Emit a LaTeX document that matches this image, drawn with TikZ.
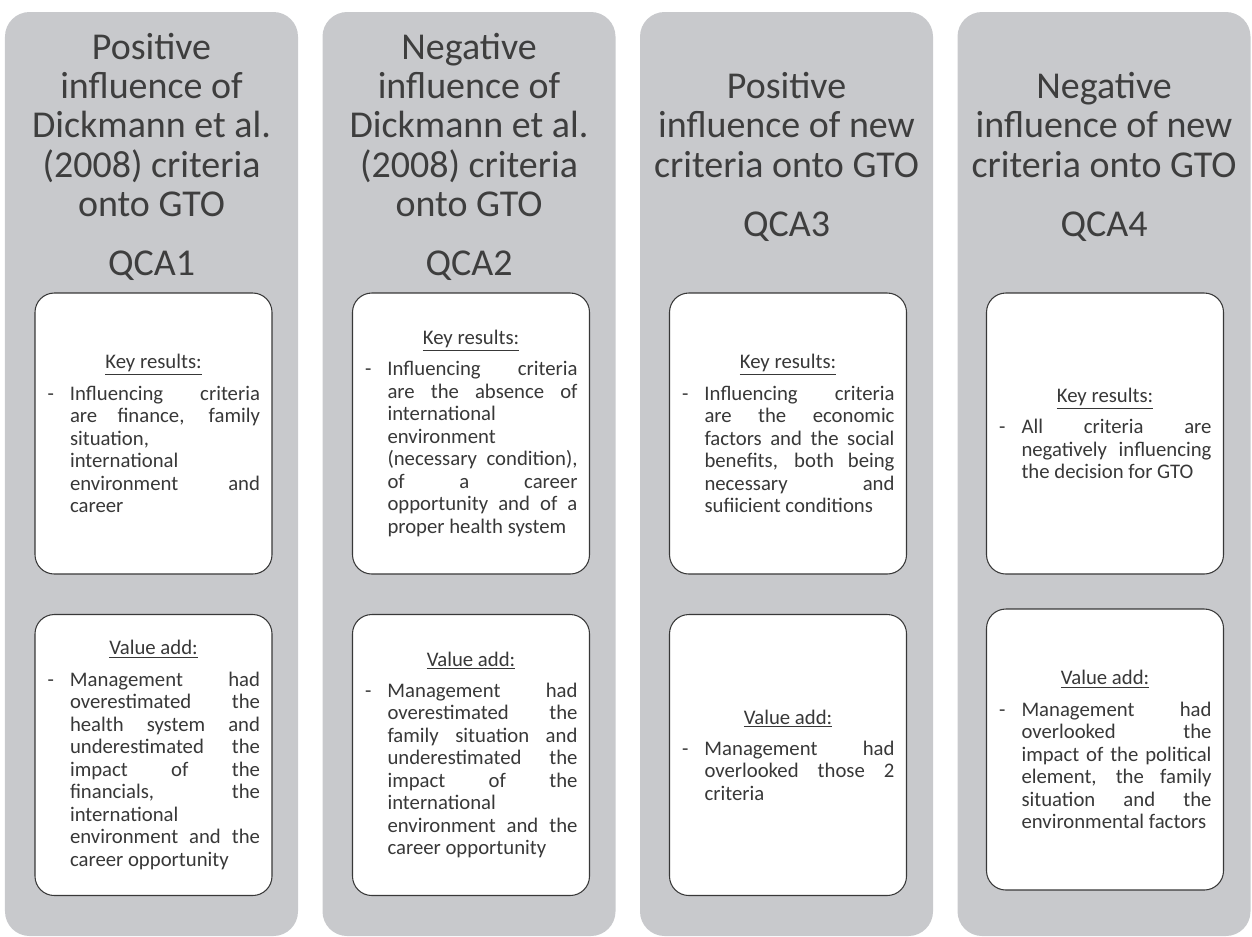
\documentclass[tikz,border=0pt]{standalone}
\usepackage{fontspec}
\setmainfont{Carlito}
\usepackage{xcolor}
\usepackage{tikz}
\usetikzlibrary{positioning}

\definecolor{colgray}{RGB}{200,201,204}
\definecolor{txtgray}{RGB}{56,56,56}
\definecolor{ttlgray}{RGB}{62,62,62}

\tolerance=10000
\hbadness=10000
\hyphenpenalty=10000

\newcommand{\boxhead}[1]{{\centering\underline{#1}\par}\vspace{5pt}}
\newcommand{\dashitem}[1]{\noindent\hangindent=0.46cm\hangafter=0\llap{-\hspace{0.32cm}}#1\par}

\begin{document}
\begin{tikzpicture}[
    colbox/.style={rectangle, fill=colgray, draw=none, rounded corners=14pt, minimum width=5.86cm, minimum height=18.48cm, inner sep=0pt},
    title/.style={font=\fontsize{21.6}{22.4}\selectfont, text=ttlgray, align=center, inner sep=0pt},
    qca/.style={font=\fontsize{21.6}{22.4}\selectfont, text=ttlgray, inner sep=0pt},
    resbox/.style={rectangle, draw=txtgray, fill=white, line width=0.6pt, rounded corners=11pt, minimum width=4.74cm, minimum height=5.62cm, text width=4.26cm, inner xsep=0.24cm, align=justify, font=\fontsize{11.8}{12.8}\selectfont, text=txtgray},
  ]
    \useasboundingbox (0,0) rectangle (25.04,-18.72);

    % Columns
    \node[colbox] (col1) at (3.03,-9.48) {};
    \node[colbox] (col2) at (9.38,-9.48) {};
    \node[colbox] (col3) at (15.73,-9.48) {};
    \node[colbox] (col4) at (22.08,-9.48) {};

    % Titles
    \node[title] (t1) at (3.03,-2.50) {Positive\\influence of\\Dickmann et al.\\(2008) criteria\\onto GTO};
    \node[title] (t2) at (9.38,-2.50) {Negative\\influence of\\Dickmann et al.\\(2008) criteria\\onto GTO};
    \node[title] (t3) at (15.73,-2.50) {Positive\\influence of new\\criteria onto GTO};
    \node[title] (t4) at (22.08,-2.50) {Negative\\influence of new\\criteria onto GTO};

    \node[qca, below=0.67cm of t1] (q1) {QCA1};
    \node[qca, below=0.67cm of t2] (q2) {QCA2};
    \node[qca, below=0.67cm of t3] (q3) {QCA3};
    \node[qca, below=0.67cm of t4] (q4) {QCA4};

    % Key results
    \node[resbox] (k1) at (3.07,-8.67) {\boxhead{Key results:}\dashitem{Influencing criteria\linebreak are finance, family\linebreak situation,\linebreak international\linebreak environment and\linebreak career}};
    \node[resbox] (k2) at (9.42,-8.67) {\boxhead{Key results:}\dashitem{Influencing criteria\linebreak are the absence of\linebreak international\linebreak environment\linebreak (necessary condition),\linebreak of a career\linebreak opportunity and of a\linebreak proper health system}};
    \node[resbox] (k3) at (15.76,-8.67) {\boxhead{Key results:}\dashitem{Influencing criteria\linebreak are the economic\linebreak factors and the social\linebreak benefits, both being\linebreak necessary and\linebreak sufiicient conditions}};
    \node[resbox] (k4) at (22.10,-8.67) {\boxhead{Key results:}\dashitem{All criteria are\linebreak negatively influencing\linebreak the decision for GTO}};

    % Value add
    \node[resbox] (v1) at (3.07,-15.10) {\boxhead{Value add:}\dashitem{Management had\linebreak overestimated the\linebreak health system and\linebreak underestimated the\linebreak impact of the\linebreak financials, the\linebreak international\linebreak environment and the\linebreak career opportunity}};
    \node[resbox] (v2) at (9.42,-15.10) {\boxhead{Value add:}\dashitem{Management had\linebreak overestimated the\linebreak family situation and\linebreak underestimated the\linebreak impact of the\linebreak international\linebreak environment and the\linebreak career opportunity}};
    \node[resbox] (v3) at (15.76,-15.10) {\boxhead{Value add:}\dashitem{Management had\linebreak overlooked those 2\linebreak criteria}};
    \node[resbox] (v4) at (22.10,-14.99) {\boxhead{Value add:}\dashitem{Management had\linebreak overlooked the\linebreak impact of the political\linebreak element, the family\linebreak situation and the\linebreak environmental factors}};

  \end{tikzpicture}
\end{document}
